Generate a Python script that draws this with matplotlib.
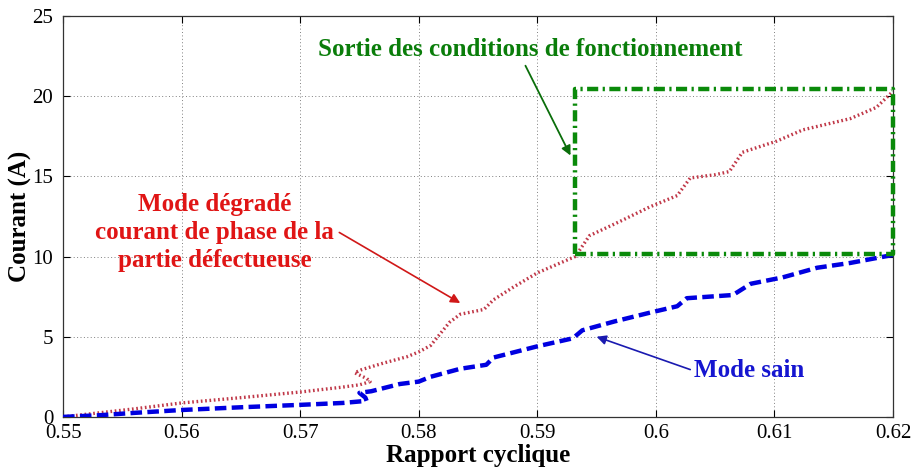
import matplotlib
matplotlib.use("Agg")
import matplotlib.pyplot as plt

plt.rcParams['font.family'] = ['Liberation Serif', 'DejaVu Serif']

# Courant de phase de la partie défectueuse (mode dégradé)
red_x = [0.550, 0.553, 0.556, 0.560, 0.565, 0.570, 0.5735, 0.5750, 0.5759, 0.5756,
         0.5746, 0.5752, 0.5770, 0.5790, 0.5800, 0.5810, 0.5826, 0.5835, 0.5855,
         0.5863, 0.5880, 0.5900, 0.5932, 0.5944, 0.5970, 0.5995, 0.6018, 0.6029,
         0.6050, 0.6062, 0.6073, 0.6102, 0.6124, 0.6164, 0.6186, 0.6200]
red_y = [0.0, 0.25, 0.5, 0.87, 1.2, 1.55, 1.85, 2.0, 2.2, 2.4,
         2.75, 2.95, 3.35, 3.75, 4.05, 4.45, 5.9, 6.4, 6.7,
         7.3, 8.1, 8.98, 10.0, 11.3, 12.2, 13.1, 13.8, 14.9,
         15.1, 15.3, 16.5, 17.2, 17.9, 18.6, 19.3, 20.3]

# Mode sain
blue_x = [0.550, 0.553, 0.556, 0.560, 0.565, 0.570, 0.5736, 0.5756, 0.5755, 0.5750,
          0.5760, 0.5784, 0.5800, 0.5810, 0.5835, 0.5857, 0.5863, 0.5900, 0.5930,
          0.5938, 0.5965, 0.5995, 0.6018, 0.6026, 0.6065, 0.6080, 0.6107, 0.6136,
          0.6164, 0.6200]
blue_y = [0.0, 0.1, 0.25, 0.43, 0.6, 0.75, 0.87, 1.0, 1.2, 1.5,
          1.6, 2.05, 2.2, 2.5, 3.0, 3.25, 3.7, 4.4, 4.9,
          5.4, 5.95, 6.5, 6.9, 7.4, 7.6, 8.3, 8.7, 9.3,
          9.6, 10.1]

# zone hors conditions de fonctionnement
box_x = [0.5932, 0.6200]
box_y = [10.15, 20.45]

x_ticks = [0.55, 0.56, 0.57, 0.58, 0.59, 0.60, 0.61, 0.62]
x_labels = ['0.55', '0.56', '0.57', '0.58', '0.59', '0.6', '0.61', '0.62']
y_ticks = [0, 5, 10, 15, 20, 25]

fig = plt.figure(figsize=(9.14, 4.70), dpi=100)
ax = fig.add_axes([0.069, 0.113, 0.908, 0.853])

ax.plot(red_x, red_y, color='#c03848', linestyle=(0, (0.5, 0.8)), lw=2.4, zorder=3)
ax.plot(blue_x, blue_y, color='#0000e0', linestyle=(0, (2.6, 1.2)), lw=3.2, zorder=4)
ax.plot([box_x[0], box_x[1], box_x[1], box_x[0], box_x[0]],
        [box_y[0], box_y[0], box_y[1], box_y[1], box_y[0]],
        color='#0a8a0a', linestyle=(0, (2.5, 1, 0.5, 1)), lw=3.2, zorder=5, clip_on=False)

ax.set_xlim(0.55, 0.62)
ax.set_ylim(0, 25)
ax.set_xticks(x_ticks)
ax.set_xticklabels(x_labels)
ax.set_yticks(y_ticks)
ax.tick_params(direction='in', length=5, width=0.8, top=True, right=True,
               labelsize=15)
ax.tick_params(axis='x', pad=5)
ax.tick_params(axis='y', pad=7)
ax.grid(True, color='#808080', linestyle=(0, (1, 2.5)), lw=0.7)
for sp in ax.spines.values():
    sp.set_linewidth(0.9)
    sp.set_color('#333333')

ax.set_xlabel('Rapport cyclique', fontsize=18, fontweight='bold', labelpad=1)
ax.set_ylabel('Courant (A)', fontsize=18, fontweight='bold', labelpad=0)

# annotations
ax.text(0.5894, 22.9, 'Sortie des conditions de fonctionnement', ha='center',
        va='center', fontsize=18, fontweight='bold', color='#0a7d0a')
ax.annotate('', xy=(0.5928, 16.3), xytext=(0.5890, 21.9),
            arrowprops=dict(arrowstyle='-|>', color='#0a6e0a', lw=1.3,
                            mutation_scale=14, shrinkA=0, shrinkB=0))

ax.text(0.5628, 11.5, 'Mode dégradé\ncourant de phase de la\npartie défectueuse',
        ha='center', va='center', fontsize=18, fontweight='bold',
        color='#e01515', linespacing=1.3)
ax.annotate('', xy=(0.5835, 7.1), xytext=(0.5733, 11.5),
            arrowprops=dict(arrowstyle='-|>', color='#d01818', lw=1.2,
                            mutation_scale=14, shrinkA=0, shrinkB=0))

ax.text(0.6032, 2.9, 'Mode sain', ha='left', va='center', fontsize=18,
        fontweight='bold', color='#1515d0')
ax.annotate('', xy=(0.5950, 5.0), xytext=(0.6029, 2.95),
            arrowprops=dict(arrowstyle='-|>', color='#1a1ab0', lw=1.2,
                            mutation_scale=14, shrinkA=0, shrinkB=0))

fig.savefig('out.png', dpi=100)
